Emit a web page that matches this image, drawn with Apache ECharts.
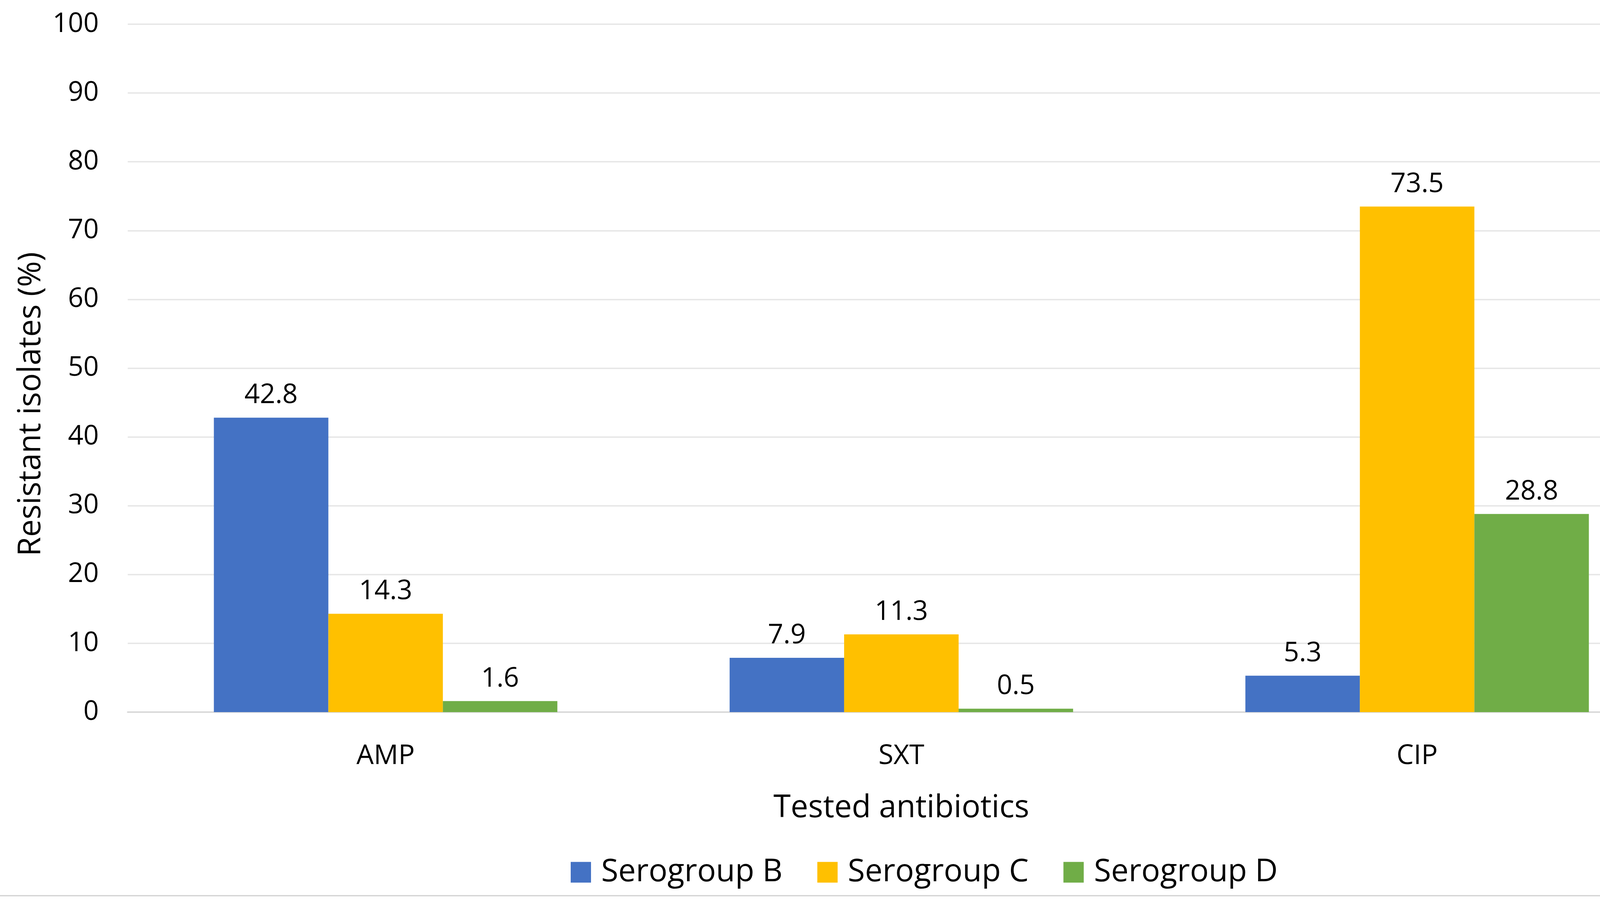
<!DOCTYPE html>
<html>
<head>
<meta charset="utf-8">
<script src="https://cdn.jsdelivr.net/npm/echarts@6/dist/echarts.min.js"></script>
<style>
html,body{margin:0;padding:0;background:#fff;}
#chart{width:4330px;height:2304px;}
</style>
</head>
<body>
<div id="chart"></div>
<script>
const categories = ['AMP', 'SXT', 'CIP'];
const serogroupB = [42.8, 7.9, 5.3];
const serogroupC = [14.3, 11.3, 73.5];
const serogroupD = [1.6, 0.5, 28.8];
const seriesNames = ['Serogroup B', 'Serogroup C', 'Serogroup D'];
const yTicks = { min: 0, max: 100, interval: 10 };

const FONT = "'Open Sans', sans-serif";
const colors = ['#4472C4', '#FFC000', '#70AD47'];

const chart = echarts.init(document.getElementById('chart'), null, { renderer: 'canvas' });

function mkSeries(name, data, color) {
  return {
    name: name,
    type: 'bar',
    data: data,
    barGap: '0%',
    barCategoryGap: '33.4%',
    itemStyle: { color: color },
    label: {
      show: true,
      position: 'top',
      distance: 22,
      color: '#000',
      fontFamily: FONT,
      fontSize: 69,
      formatter: function (p) { return p.value.toFixed(1); }
    },
    emphasis: { disabled: true }
  };
}

chart.setOption({
  animation: false,
  backgroundColor: '#fff',
  color: colors,
  grid: { left: 327, right: 42, top: 62, bottom: 481, containLabel: false },
  xAxis: {
    type: 'category',
    data: categories,
    axisTick: { show: false },
    axisLine: { show: true, lineStyle: { color: '#D9D9D9', width: 4 } },
    axisLabel: { color: '#000', fontFamily: FONT, fontSize: 70, margin: 78 },
    name: 'Tested antibiotics',
    nameLocation: 'middle',
    nameGap: 206,
    nameTextStyle: { color: '#000', fontFamily: FONT, fontSize: 80 }
  },
  yAxis: {
    type: 'value',
    min: yTicks.min,
    max: yTicks.max,
    interval: yTicks.interval,
    axisLine: { show: false },
    axisTick: { show: false },
    splitLine: { show: true, lineStyle: { color: '#E6E6E6', width: 3.5 } },
    axisLabel: { color: '#000', fontFamily: FONT, fontSize: 69, margin: 74 },
    name: 'Resistant isolates (%)',
    nameLocation: 'middle',
    nameGap: 207,
    nameTextStyle: { color: '#000', fontFamily: FONT, fontSize: 80, padding: [0, 184, 0, 0] }
  },
  legend: {
    data: seriesNames,
    bottom: 26,
    left: 1456,
    itemWidth: 52,
    itemHeight: 53,
    itemGap: 89,
    icon: 'rect',
    textStyle: { color: '#000', fontFamily: FONT, fontSize: 80, padding: [0, 0, 0, 21] }
  },
  graphic: [{
    type: 'line',
    shape: { x1: 0, y1: 2293, x2: 4330, y2: 2293 },
    style: { stroke: '#D0D0D0', lineWidth: 3 }
  }],
  series: [
    mkSeries(seriesNames[0], serogroupB, colors[0]),
    mkSeries(seriesNames[1], serogroupC, colors[1]),
    mkSeries(seriesNames[2], serogroupD, colors[2])
  ]
});
</script>
</body>
</html>
